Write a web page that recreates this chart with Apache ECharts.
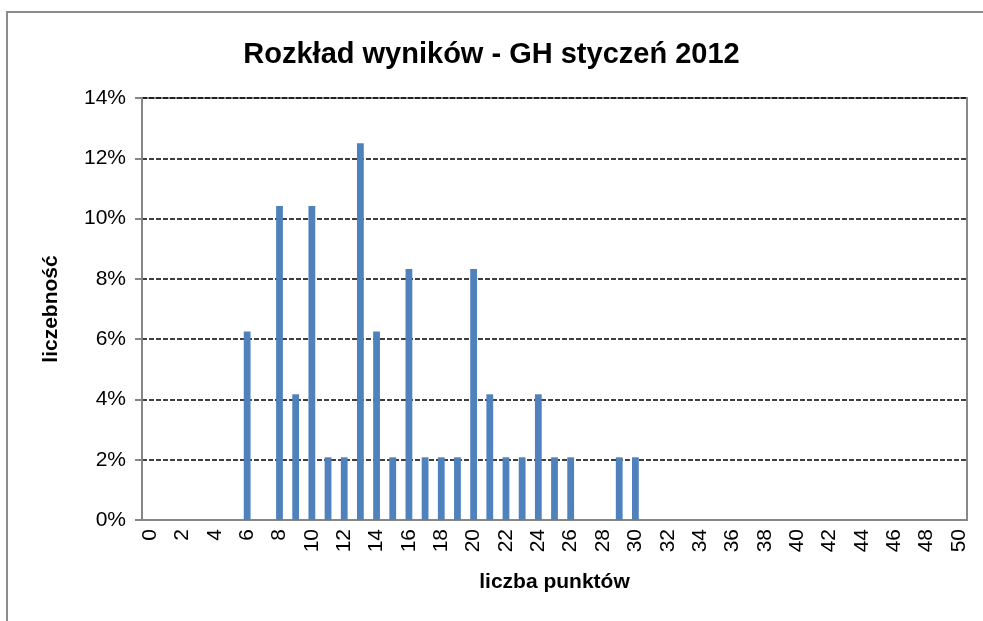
<!DOCTYPE html>
<html>
<head>
<meta charset="utf-8">
<script src="https://cdn.jsdelivr.net/npm/echarts@6/dist/echarts.min.js"></script>
<style>
  html, body { margin: 0; padding: 0; background: #fff; }
  #chart { width: 983px; height: 621px; }
</style>
</head>
<body>
<div id="chart"></div>
<script>
// liczba punktów 0..50
const points = [
  '0','1','2','3','4','5','6','7','8','9',
  '10','11','12','13','14','15','16','17','18','19',
  '20','21','22','23','24','25','26','27','28','29',
  '30','31','32','33','34','35','36','37','38','39',
  '40','41','42','43','44','45','46','47','48','49','50'
];
// liczebność w %
const shares = [
  0, 0, 0, 0, 0, 0, 6.25, 0, 10.42, 4.17,
  10.42, 2.08, 2.08, 12.5, 6.25, 2.08, 8.33, 2.08, 2.08, 2.08,
  8.33, 4.17, 2.08, 2.08, 4.17, 2.08, 2.08, 0, 0, 2.08,
  2.08, 0, 0, 0, 0, 0, 0, 0, 0, 0,
  0, 0, 0, 0, 0, 0, 0, 0, 0, 0, 0
];
const yTicks = [0, 2, 4, 6, 8, 10, 12, 14];

const font = 'Liberation Sans, Arial';
const chart = echarts.init(document.getElementById('chart'));
chart.setOption({
  animation: false,
  backgroundColor: '#fff',
  title: {
    text: 'Rozkład wyników - GH styczeń 2012',
    left: 'center',
    top: 35,
    textStyle: { fontFamily: font, fontSize: 29, fontWeight: 'bold', color: '#000' }
  },
  graphic: [{
    type: 'rect',
    shape: { x: 7, y: 12, width: 1000, height: 700 },
    style: { fill: 'none', stroke: '#8c8c8c', lineWidth: 2 },
    silent: true
  }],
  grid: {
    left: 142, right: 16, top: 98, bottom: 101,
    show: true, borderColor: '#888', borderWidth: 2
  },
  xAxis: {
    type: 'category',
    data: points,
    name: 'liczba punktów',
    nameLocation: 'middle',
    nameGap: 52,
    nameTextStyle: { fontFamily: font, fontSize: 21, fontWeight: 'bold', color: '#000' },
    axisLine: { lineStyle: { color: '#868686', width: 2 } },
    axisTick: { interval: 0, length: 6, lineStyle: { color: '#868686', width: 2 } },
    axisLabel: {
      interval: 1, rotate: 90, margin: 9,
      fontFamily: font, fontSize: 21, color: '#000'
    }
  },
  yAxis: {
    type: 'value',
    min: yTicks[0],
    max: yTicks[yTicks.length - 1],
    interval: 2,
    name: 'liczebność',
    nameLocation: 'middle',
    nameGap: 80,
    nameTextStyle: { fontFamily: font, fontSize: 21, fontWeight: 'bold', color: '#000' },
    axisLine: { show: true, lineStyle: { color: '#868686', width: 2 } },
    axisTick: { show: true, length: 7, lineStyle: { color: '#868686', width: 2 } },
    axisLabel: {
      formatter: '{value}%', margin: 16,
      fontFamily: font, fontSize: 21, color: '#000'
    },
    splitLine: { lineStyle: { color: '#000', type: [5, 2], width: 1.5 } }
  },
  series: [{
    type: 'bar',
    data: shares,
    barWidth: '42%',
    itemStyle: { color: '#4F81BD' }
  }]
});
</script>
</body>
</html>
